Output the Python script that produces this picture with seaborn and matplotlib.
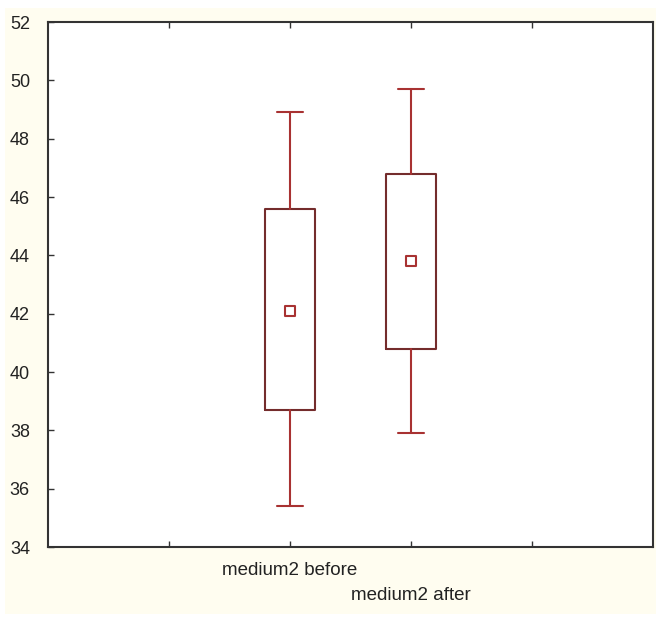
import numpy as np
import matplotlib
matplotlib.use("Agg")
import matplotlib.pyplot as plt
from matplotlib.patches import Rectangle
import seaborn as sns

# values (Statistica style: mean, box, whiskers)
groups = ["medium2 before", "medium2 after"]
positions = [2, 3]
means = [42.1, 43.8]
box_low = [38.7, 40.8]
box_high = [45.6, 46.8]
whisk_low = [35.4, 37.9]
whisk_high = [48.9, 49.7]
yticks = list(range(34, 53, 2))

sns.set_style("ticks")
plt.rcParams['font.family'] = ['Liberation Sans', 'DejaVu Sans']

box_col = '#742c2c'
whisk_col = '#a83232'

fig = plt.figure(figsize=(6.56, 6.17), dpi=100)
fig.patch.set_facecolor('white')
# cream panel behind the plot
fig.patches.append(Rectangle((5 / 656, 3 / 617), 1 - 5 / 656, (614 - 8) / 617,
                             transform=fig.transFigure, facecolor='#fffdf0',
                             edgecolor='none', zorder=-10))
ax = fig.add_axes([48 / 656, 70 / 617, 605 / 656, 525 / 617])
ax.set_facecolor('white')

stats = []
for i in range(len(groups)):
    stats.append(dict(med=means[i], q1=box_low[i], q3=box_high[i],
                      whislo=whisk_low[i], whishi=whisk_high[i], fliers=[]))

ax.bxp(stats, positions=positions, widths=0.42, capwidths=0.21,
       showfliers=False, manage_ticks=False,
       boxprops=dict(color=box_col, linewidth=1.5),
       whiskerprops=dict(color=whisk_col, linewidth=1.5),
       capprops=dict(color=whisk_col, linewidth=1.5),
       medianprops=dict(linewidth=0))

sns.scatterplot(x=positions, y=means, marker='s', s=55, color='white',
                edgecolor=whisk_col, linewidth=1.5, ax=ax, zorder=5)

ax.set_xlim(0, 5)
ax.set_ylim(34, 52)
ax.set_yticks(yticks)
ax.set_yticklabels([str(v) for v in yticks], fontsize=13, color='#222222')
ax.set_xticks([1, 2, 3, 4])
ax.set_xticklabels(['', groups[0], groups[1], ''], fontsize=13.5, color='#222222')
ax.tick_params(axis='both', direction='in', length=4, width=1, color='#333333')
ax.tick_params(axis='x', top=True)
ax.tick_params(axis='y', pad=13)
xt = ax.xaxis.get_major_ticks()
xt[1].set_pad(11)
xt[2].set_pad(29)

for sp in ax.spines.values():
    sp.set_color('#333333')
    sp.set_linewidth(1.5)
    sp.set_visible(True)

ax.set_xlabel('')
ax.set_ylabel('')
fig.savefig('out.png', dpi=100)
